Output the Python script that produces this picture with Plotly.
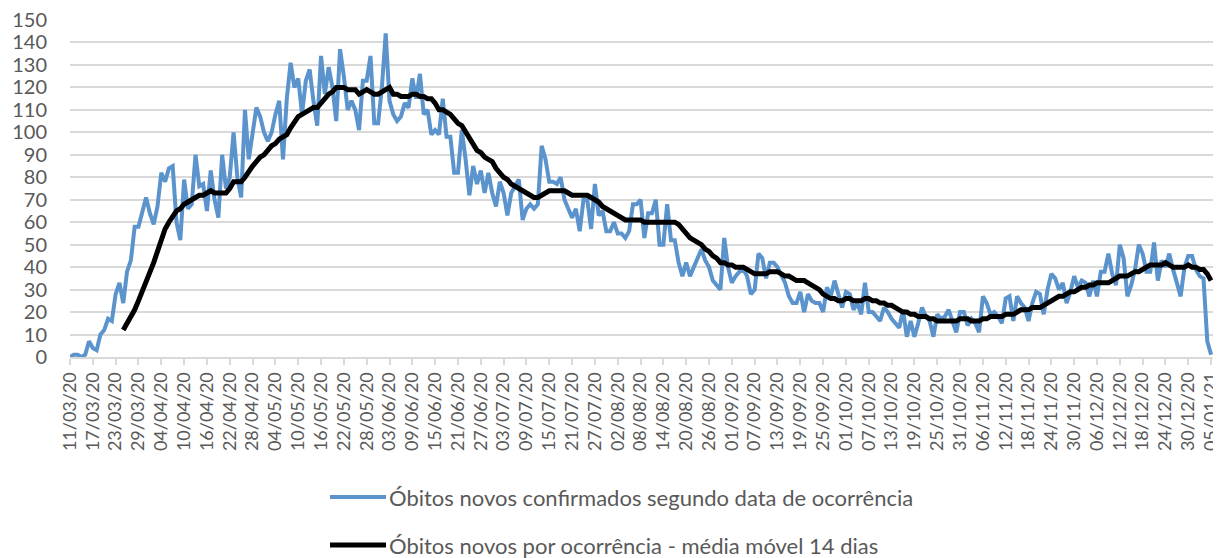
import pandas as pd
import plotly.graph_objects as go

start_date = "2020-03-11"
n_days = 301

# Daily deaths by date of occurrence, 11/03/20 .. 05/01/21
obitos_diarios = [
    0, 1, 1, 0, 1, 7, 4, 3, 10, 12,
    17, 16, 28, 33, 24, 38, 43, 58, 58, 64,
    71, 64, 59, 67, 82, 78, 84, 85, 60, 52,
    79, 66, 68, 90, 76, 77, 65, 83, 70, 62,
    90, 75, 80, 100, 80, 71, 110, 88, 100, 111,
    107, 100, 96, 100, 108, 114, 88, 115, 131, 120,
    124, 108, 123, 128, 114, 103, 134, 117, 129, 120,
    105, 137, 125, 110, 114, 110, 101, 123, 123, 134,
    104, 104, 120, 144, 114, 108, 105, 107, 113, 111,
    124, 115, 126, 108, 110, 99, 101, 99, 115, 98,
    98, 82, 82, 101, 88, 72, 85, 77, 83, 73,
    82, 73, 67, 78, 73, 63, 73, 76, 79, 61,
    66, 68, 66, 68, 94, 88, 78, 78, 77, 80,
    70, 66, 62, 66, 56, 70, 70, 57, 77, 63,
    65, 56, 56, 60, 55, 55, 53, 56, 68, 68,
    70, 53, 64, 64, 70, 50, 50, 68, 52, 52,
    42, 36, 42, 36, 40, 44, 48, 43, 40, 34,
    32, 30, 53, 40, 33, 36, 38, 39, 36, 28,
    30, 46, 44, 35, 42, 42, 40, 36, 33, 27,
    24, 24, 29, 20, 28, 25, 24, 24, 20, 31,
    27, 34, 28, 22, 29, 28, 21, 24, 19, 33,
    20, 20, 18, 16, 22, 20, 17, 15, 13, 21,
    9, 16, 9, 15, 22, 18, 16, 9, 19, 17,
    18, 21, 16, 11, 20, 20, 14, 17, 15, 11,
    27, 24, 19, 20, 18, 15, 26, 27, 16, 27,
    24, 22, 16, 24, 29, 28, 19, 30, 37, 35,
    30, 33, 24, 29, 36, 31, 34, 33, 27, 34,
    27, 38, 38, 46, 37, 32, 50, 44, 27, 32,
    39, 50, 46, 38, 38, 51, 34, 43, 40, 46,
    39, 33, 27, 40, 45, 45, 39, 36, 35, 7,
    1,
]

# 14-day moving average, starts on day index 14 (25/03/20)
media_movel_inicio = 14
media_movel_14 = [
    12, 15, 17, 21, 25, 29,
    33, 38, 42, 47, 52, 57, 60, 63, 65, 66,
    68, 69, 70, 71, 72, 72, 73, 74, 73, 73,
    73, 73, 75, 78, 78, 78, 80, 83, 85, 87,
    89, 90, 92, 94, 95, 97, 98, 99, 102, 105,
    107, 108, 109, 110, 111, 111, 113, 115, 117, 118,
    120, 120, 120, 119, 119, 119, 117, 118, 119, 118,
    117, 117, 118, 119, 120, 117, 117, 116, 116, 116,
    117, 117, 116, 116, 115, 115, 113, 110, 110, 109,
    108, 106, 104, 103, 100, 97, 94, 92, 91, 89,
    88, 87, 84, 82, 80, 79, 77, 76, 75, 74,
    73, 72, 71, 71, 72, 73, 74, 74, 74, 74,
    74, 73, 72, 72, 72, 72, 72, 71, 70, 69,
    67, 66, 65, 64, 63, 62, 61, 61, 61, 61,
    61, 60, 60, 60, 60, 60, 60, 60, 60, 60,
    59, 57, 55, 53, 52, 51, 50, 48, 47, 45,
    44, 42, 42, 41, 41, 40, 40, 40, 39, 38,
    37, 37, 37, 37, 38, 38, 38, 37, 36, 36,
    35, 34, 34, 34, 33, 32, 31, 30, 28, 27,
    26, 26, 25, 25, 26, 26, 25, 25, 25, 26,
    26, 25, 25, 24, 24, 23, 23, 22, 21, 20,
    20, 19, 19, 18, 18, 18, 17, 17, 16, 16,
    16, 16, 16, 16, 17, 17, 17, 16, 16, 16,
    17, 17, 18, 18, 18, 18, 19, 19, 19, 20,
    21, 21, 21, 22, 22, 22, 23, 24, 25, 26,
    27, 27, 28, 29, 29, 30, 31, 31, 32, 32,
    33, 33, 33, 33, 34, 35, 36, 36, 36, 37,
    38, 38, 39, 40, 41, 41, 41, 41, 42, 41,
    40, 40, 40, 40, 41, 40, 40, 39, 39, 37,
    34,
]

nome_serie_1 = "Óbitos novos confirmados segundo data de ocorrência"
nome_serie_2 = "Óbitos novos por ocorrência - média móvel 14 dias"
y_ticks = list(range(0, 151, 10))

datas = pd.date_range(start_date, periods=n_days, freq="D")

BLUE = "#5b93cc"
BLACK = "#000000"
GRID = "#d9d9d9"
TXT = "#595959"
FONT = "Lato, Carlito, 'Open Sans', sans-serif"

fig = go.Figure()
fig.add_trace(go.Scatter(
    x=datas, y=obitos_diarios, mode="lines", name=nome_serie_1,
    line=dict(color=BLUE, width=4), showlegend=False,
))
fig.add_trace(go.Scatter(
    x=datas[media_movel_inicio:], y=media_movel_14, mode="lines", name=nome_serie_2,
    line=dict(color=BLACK, width=5), showlegend=False,
))

x_end = datas[-1] + pd.Timedelta(hours=12)

# The page body adds an 8 px offset; figure is sized so the chart fills the window
OFF = 8
W, H = 1221 - OFF, 558 - OFF
ML, MR, MT, MB = 70 - OFF, 8, 20 - OFF, 201

fig.update_layout(
    width=W, height=H,
    margin=dict(l=ML, r=MR, t=MT, b=MB),
    paper_bgcolor="white", plot_bgcolor="white",
    font=dict(family=FONT, size=20, color=TXT),
    xaxis=dict(
        type="date", automargin=False,
        range=[datas[0], x_end],
        tick0=datas[0], dtick=6 * 86400000,
        tickformat="%d/%m/%y", tickangle=-90,
        showgrid=False, showline=True, linecolor=GRID, linewidth=2,
        ticks="outside", ticklen=6, tickwidth=2, tickcolor=GRID,
        tickfont=dict(family=FONT, size=18, color=TXT),
        ticklabeloverflow="allow",
        zeroline=False,
    ),
    yaxis=dict(
        automargin=False,
        range=[0, 150], tickvals=y_ticks,
        showgrid=True, gridcolor=GRID, gridwidth=2,
        zeroline=False, showline=False,
        tickfont=dict(family=FONT, size=20, color=TXT),
        ticklabelstandoff=22,
        ticklabeloverflow="allow",
    ),
)

# Legend drawn below the chart (positions given in window pixels)
plot_h = H - MT - MB
plot_w = W - ML - MR

def px_to_paper_x(px):
    return (px - OFF - ML) / plot_w

def px_to_paper_y(py):
    return (H - MB - (py - OFF)) / plot_h

legend_items = [(nome_serie_1, BLUE, 4, 497), (nome_serie_2, BLACK, 5, 545)]
for nome, cor, lw, py in legend_items:
    fig.add_shape(type="line", xref="paper", yref="paper",
                  x0=px_to_paper_x(330), x1=px_to_paper_x(386),
                  y0=px_to_paper_y(py), y1=px_to_paper_y(py),
                  line=dict(color=cor, width=lw))
    fig.add_annotation(xref="paper", yref="paper",
                       x=px_to_paper_x(387), y=px_to_paper_y(py),
                       xanchor="left", yanchor="middle", showarrow=False,
                       text=nome, font=dict(family=FONT, size=22, color=TXT))

fig.write_html("out.html")
